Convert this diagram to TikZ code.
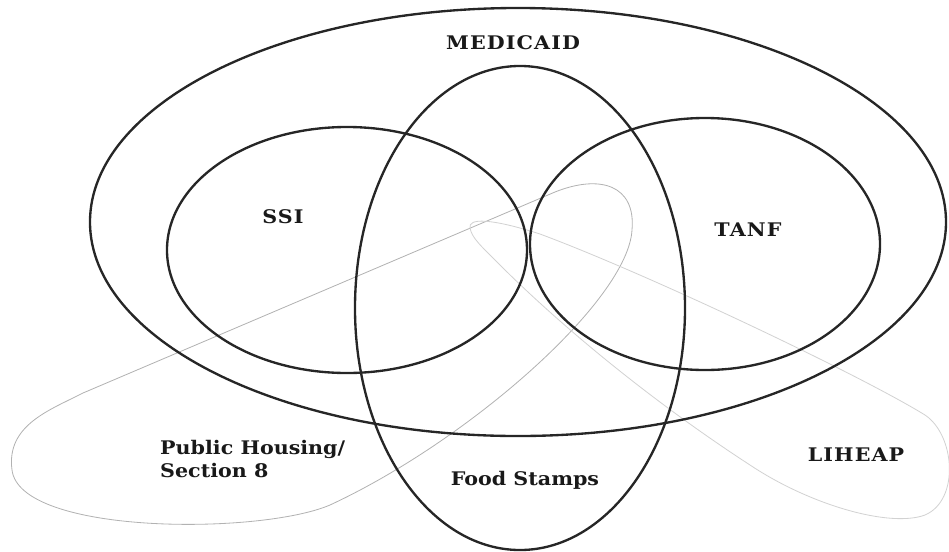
\documentclass[tikz,border=0pt]{standalone}
\usepackage{fontspec}
\setmainfont{DejaVu Serif}[FakeStretch=1.1]
\tikzset{
  setline/.style={line width=2pt, black!85},
  faintline/.style={line width=0.7pt, gray!60},
  fainterline/.style={line width=0.7pt, gray!35},
  setlabel/.style={font=\fontsize{16}{19}\selectfont\bfseries, text=black!90, inner sep=0pt},
  capslabel/.style={setlabel, font=\fontsize{16}{19}\selectfont\bfseries\addfontfeature{LetterSpace=6}}
}
\begin{document}
\begin{tikzpicture}[x=0.03cm,y=-0.03cm]
  \useasboundingbox (0,0) rectangle (949,551);
  % grey sets
  \draw[faintline] (83,393) -- (555,192) .. controls (600,174) and (636,185) .. (632,230)
    .. controls (628,300) and (470,440) .. (330,505)
    .. controls (260,535) and (20,535) .. (12,470)
    .. controls (6,425) and (50,410) .. cycle;
  \draw[fainterline] (470,228) .. controls (468,218) and (490,218) .. (540,234)
    .. controls (650,275) and (860,375) .. (925,415)
    .. controls (955,435) and (960,500) .. (925,515)
    .. controls (890,528) and (810,505) .. (750,465)
    .. controls (650,400) and (560,325) .. (500,265)
    .. controls (480,245) and (472,238) .. cycle;
  % black sets
  \draw[setline] (518,222) ellipse [x radius=12.84cm, y radius=6.42cm];
  \draw[setline] (347,250) ellipse [x radius=5.40cm, y radius=3.69cm];
  \draw[setline] (705,244) ellipse [x radius=5.25cm, y radius=3.78cm];
  \draw[setline] (520,308) ellipse [x radius=4.95cm, y radius=7.26cm];
  % labels
  \node[capslabel] (medicaid) at (513,43) {MEDICAID};
  \node[capslabel] (ssi) at (283,217) {SSI};
  \node[capslabel] (tanf) at (748,230) {TANF};
  \node[setlabel] (foodstamps) at (525,480) {Food Stamps};
  \node[capslabel] (liheap) at (856,455) {LIHEAP};
  \node[setlabel, anchor=west, align=left] (housing) at (160,459) {Public Housing/\\Section 8};
\end{tikzpicture}
\end{document}
